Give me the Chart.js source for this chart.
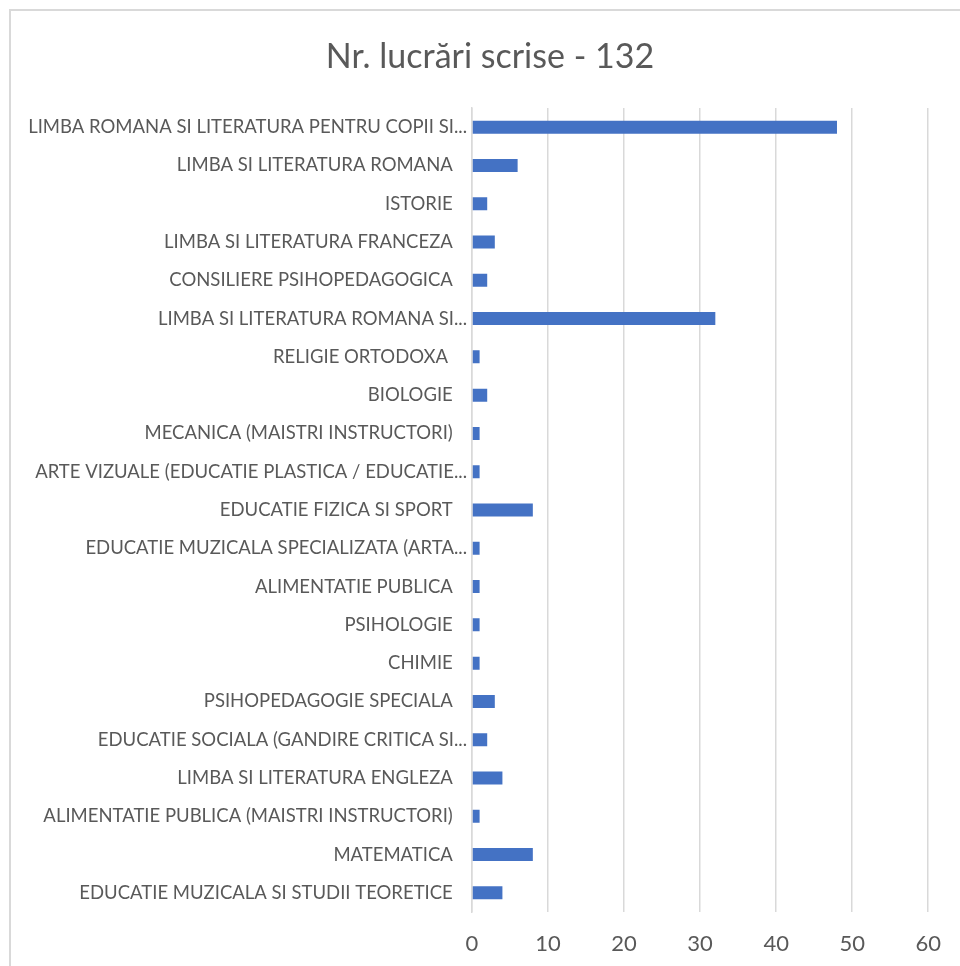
<!DOCTYPE html>
<html>
<head>
<meta charset="utf-8">
<script src="https://cdn.jsdelivr.net/npm/chart.js@4/dist/chart.umd.min.js"></script>
<style>
  html, body { margin: 0; padding: 0; background: #fff; overflow: hidden; }
  #frame { position: absolute; left: 9px; top: 9px; width: 1100px; height: 1100px; border: 2px solid #d9d9d9; box-sizing: border-box; }
  #wrap { position: absolute; left: 0; top: 0; width: 960px; height: 966px; }
</style>
</head>
<body>
<div id="frame"></div>
<div id="wrap"><canvas id="c" width="960" height="966"></canvas></div>
<script>
const titleText = 'Nr. lucrări scrise - 132';
const categories = [
  'LIMBA ROMANA SI LITERATURA PENTRU COPII SI...',
  'LIMBA SI LITERATURA ROMANA',
  'ISTORIE',
  'LIMBA SI LITERATURA FRANCEZA',
  'CONSILIERE PSIHOPEDAGOGICA',
  'LIMBA SI LITERATURA ROMANA SI...',
  'RELIGIE ORTODOXA ',
  'BIOLOGIE',
  'MECANICA (MAISTRI INSTRUCTORI)',
  'ARTE VIZUALE (EDUCATIE PLASTICA / EDUCATIE...',
  'EDUCATIE FIZICA SI SPORT',
  'EDUCATIE MUZICALA SPECIALIZATA (ARTA...',
  'ALIMENTATIE PUBLICA',
  'PSIHOLOGIE',
  'CHIMIE',
  'PSIHOPEDAGOGIE SPECIALA',
  'EDUCATIE SOCIALA (GANDIRE CRITICA SI...',
  'LIMBA SI LITERATURA ENGLEZA',
  'ALIMENTATIE PUBLICA (MAISTRI INSTRUCTORI)',
  'MATEMATICA',
  'EDUCATIE MUZICALA SI STUDII TEORETICE'
];
const values = [48, 6, 2, 3, 2, 32, 1, 2, 1, 1, 8, 1, 1, 1, 1, 3, 2, 4, 1, 8, 4];
const xTicks = [0, 10, 20, 30, 40, 50, 60];

const FONT = 'Lato, "Open Sans", sans-serif';
const GREY = '#595959';

// The original chart frame extends past the right edge of the picture,
// so the title is centred over a wider box than the visible canvas.
const titleShift = {
  id: 'titleShift',
  afterLayout(chart) {
    const t = chart.titleBlock;
    if (t) { t.left = 0; t.right = 980; t.width = 980; }
  }
};

new Chart(document.getElementById('c'), {
  type: 'bar',
  data: {
    labels: categories,
    datasets: [{
      data: values,
      backgroundColor: '#4472C4',
      borderWidth: 0,
      barPercentage: 0.34,
      categoryPercentage: 1.0
    }]
  },
  plugins: [titleShift],
  options: {
    indexAxis: 'y',
    responsive: false,
    animation: false,
    layout: { padding: { left: 0, right: 30, top: 0, bottom: 0 } },
    plugins: {
      legend: { display: false },
      tooltip: { enabled: false },
      title: {
        display: true,
        text: titleText,
        color: GREY,
        font: { family: FONT, size: 34, weight: 'normal', lineHeight: 1.2 },
        padding: { top: 37, bottom: 30.2 }
      }
    },
    scales: {
      x: {
        min: 0,
        max: 60,
        afterBuildTicks: (s) => { s.ticks = xTicks.map(v => ({ value: v })); },
        afterFit: (s) => { s.height = 54; },
        grid: { color: '#d9d9d9', lineWidth: 1.5, drawTicks: false },
        border: { display: false },
        ticks: {
          color: GREY,
          padding: 19,
          font: { family: FONT, size: 22 }
        }
      },
      y: {
        afterFit: (s) => { s.width = 472; },
        grid: { display: false },
        border: { display: true, color: '#d9d9d9', width: 1.5 },
        ticks: {
          color: GREY,
          padding: -3,
          autoSkip: false,
          font: { family: FONT, size: 18.5 },
          callback: function (v, i) {
            const l = categories[i];
            return l.endsWith('...') ? l : l + '   ';
          }
        }
      }
    }
  }
});
</script>
</body>
</html>
